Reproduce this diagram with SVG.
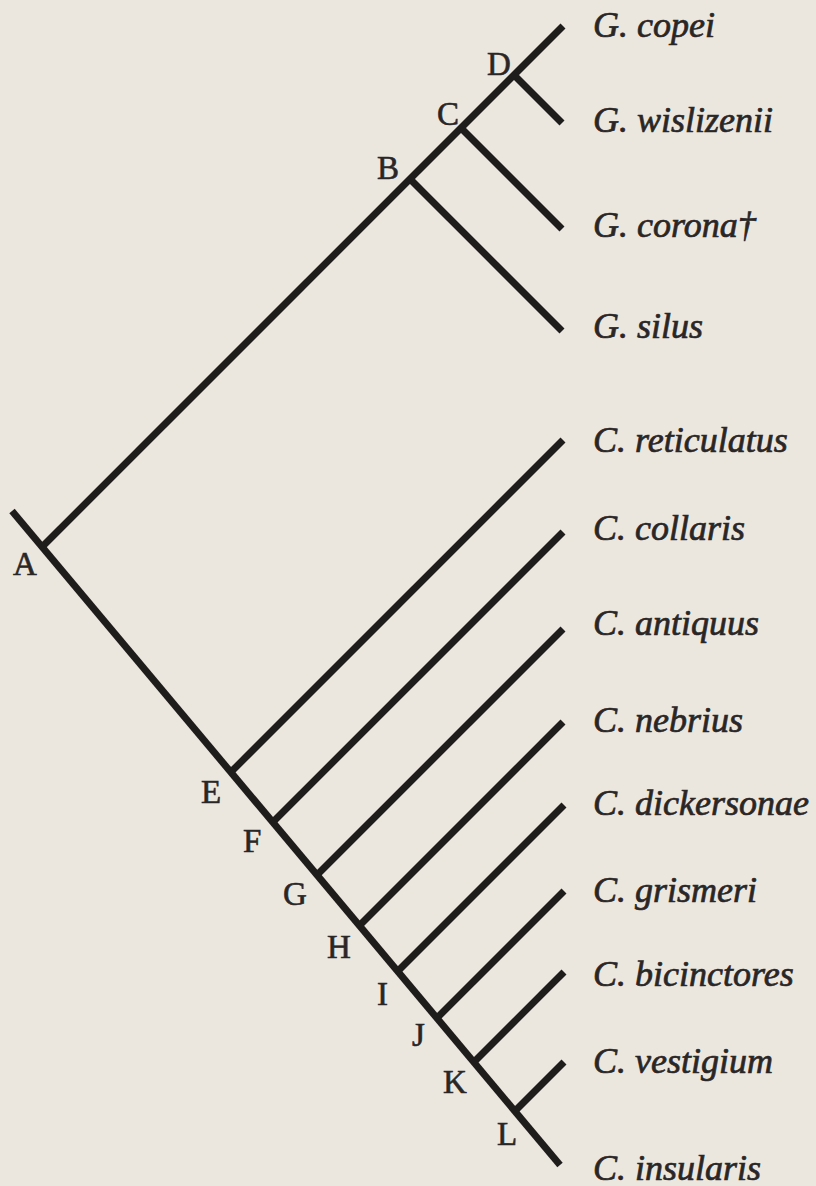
<svg xmlns="http://www.w3.org/2000/svg" width="816" height="1186" viewBox="0 0 816 1186">
<style>
.br{stroke:#1f1c1c;stroke-width:7;fill:none;stroke-linecap:butt;stroke-linejoin:miter}
.nl{font-family:"Liberation Serif","Times New Roman",serif;font-size:33px;fill:#2a2626;stroke:#2a2626;stroke-width:0.6}
.sp{font-family:"Liberation Serif","Times New Roman",serif;font-size:36px;font-style:italic;fill:#2a2626;stroke:#2a2626;stroke-width:0.7}
</style>
<rect width="816" height="1186" fill="#ebe6de"/>
<g id="connectors">
<line class="br" x1="12" y1="511" x2="560" y2="1165"/>
<line class="br" x1="42" y1="547" x2="563" y2="26"/>
<line class="br" x1="514" y1="75" x2="562" y2="123"/>
<line class="br" x1="461" y1="128" x2="562" y2="229"/>
<line class="br" x1="410" y1="179" x2="562" y2="331"/>
<line class="br" x1="231" y1="772" x2="563" y2="440"/>
<line class="br" x1="273" y1="822" x2="563" y2="532"/>
<line class="br" x1="317" y1="875" x2="563" y2="629"/>
<line class="br" x1="359" y1="926" x2="563" y2="722"/>
<line class="br" x1="398" y1="971" x2="564" y2="805"/>
<line class="br" x1="437" y1="1018" x2="564" y2="891"/>
<line class="br" x1="474" y1="1062" x2="564" y2="972"/>
<line class="br" x1="515" y1="1111" x2="564" y2="1062"/>
</g>
<g id="node-A"><text class="nl" x="13" y="575">A</text></g>
<g id="node-B"><text class="nl" x="399" y="179" text-anchor="end">B</text></g>
<g id="node-C"><text class="nl" x="437" y="125">C</text></g>
<g id="node-D"><text class="nl" x="487" y="75">D</text></g>
<g id="node-E"><text class="nl" x="201" y="803">E</text></g>
<g id="node-F"><text class="nl" x="243" y="852">F</text></g>
<g id="node-G"><text class="nl" x="283" y="905">G</text></g>
<g id="node-H"><text class="nl" x="327" y="958">H</text></g>
<g id="node-I"><text class="nl" x="377" y="1005">I</text></g>
<g id="node-J"><text class="nl" x="412" y="1046">J</text></g>
<g id="node-K"><text class="nl" x="443" y="1093">K</text></g>
<g id="node-L"><text class="nl" x="497" y="1145">L</text></g>
<g id="taxon-copei"><text class="sp" x="593" y="37">G. copei</text></g>
<g id="taxon-wislizenii"><text class="sp" x="593" y="132">G. wislizenii</text></g>
<g id="taxon-corona"><text class="sp" x="593" y="237">G. corona†</text></g>
<g id="taxon-silus"><text class="sp" x="593" y="338">G. silus</text></g>
<g id="taxon-reticulatus"><text class="sp" x="593" y="452">C. reticulatus</text></g>
<g id="taxon-collaris"><text class="sp" x="593" y="540">C. collaris</text></g>
<g id="taxon-antiquus"><text class="sp" x="593" y="635">C. antiquus</text></g>
<g id="taxon-nebrius"><text class="sp" x="593" y="732">C. nebrius</text></g>
<g id="taxon-dickersonae"><text class="sp" x="593" y="815">C. dickersonae</text></g>
<g id="taxon-grismeri"><text class="sp" x="593" y="902">C. grismeri</text></g>
<g id="taxon-bicinctores"><text class="sp" x="593" y="986">C. bicinctores</text></g>
<g id="taxon-vestigium"><text class="sp" x="593" y="1073">C. vestigium</text></g>
<g id="taxon-insularis"><text class="sp" x="593" y="1180">C. insularis</text></g>
</svg>
